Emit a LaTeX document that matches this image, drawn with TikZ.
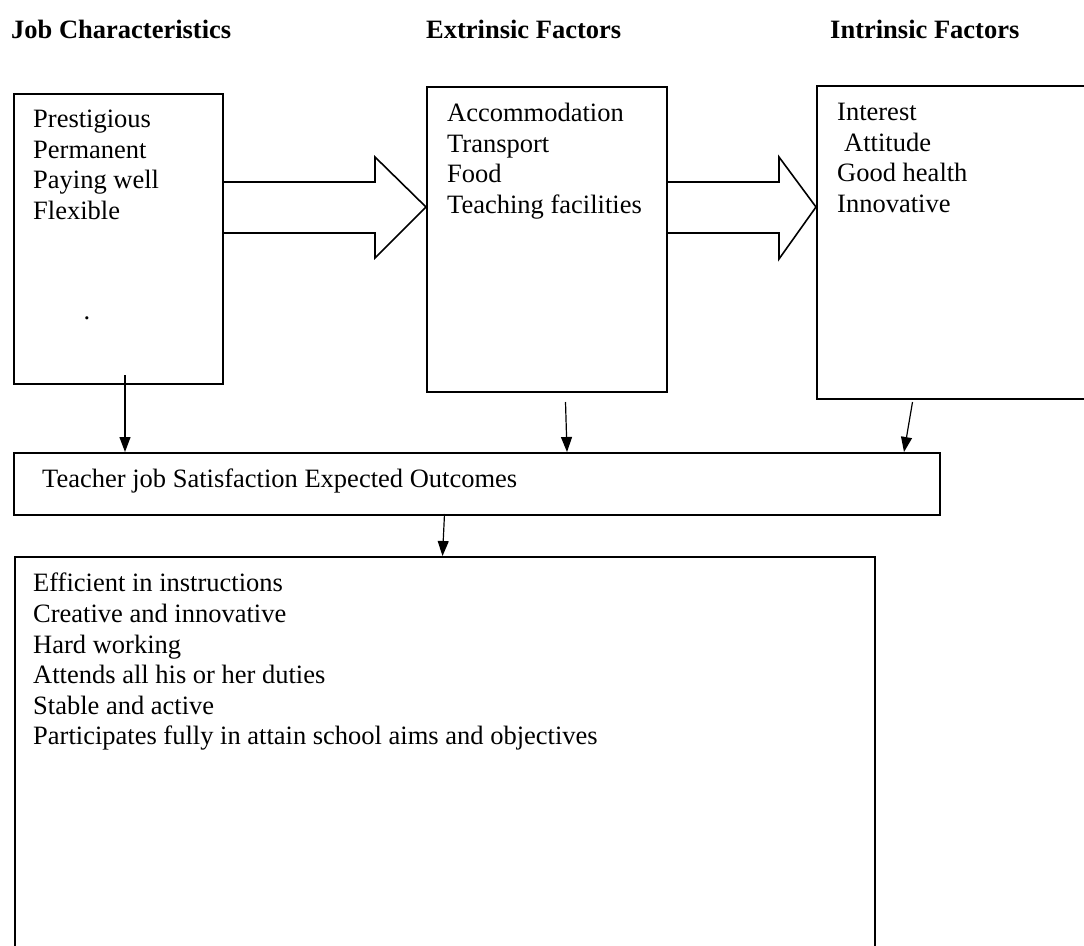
\documentclass[tikz,border=0pt]{standalone}
\usepackage{fontspec}
\setmainfont{Liberation Serif}
\usetikzlibrary{arrows.meta}

\newcommand{\bodysize}{\fontsize{26.5}{30.6}\selectfont}

\tikzset{
  box/.style={draw, rectangle, line width=1.8pt, anchor=north west, inner sep=0pt},
  list/.style={anchor=north west, inner sep=0pt, align=left},
  head/.style={anchor=base west, inner sep=0pt, font=\bodysize\bfseries},
  flow/.style={-{Triangle[length=15pt,width=11pt]}, line width=1.2pt},
  bigarrow/.style={line width=1.6pt, line join=miter}
}

\begin{document}
\begin{tikzpicture}[x=1pt, y=-1pt, font=\bodysize]
        \useasboundingbox (0,0) rectangle (1084,945);

        % Headings
        \node[head] (hjob) at (11, 38) {Job Characteristics};
        \node[head] (hext) at (426, 38) {Extrinsic Factors};
        \node[head] (hint) at (830, 38) {Intrinsic Factors};

        % Factor boxes
        \node[box, minimum width=209pt, minimum height=290pt] (job) at (13, 93) {};
        \node[box, minimum width=240pt, minimum height=305pt] (ext) at (426, 86) {};
        \node[box, minimum width=280pt, minimum height=313pt] (int) at (816, 85) {};

        \node[list] (joblist) at (33, 110) {Prestigious\\Permanent\\Paying well\\Flexible};
        \node[inner sep=0pt] (dot) at (87, 318) {.};
        \node[list] (extlist) at (447, 103) {Accommodation\\Transport\\Food\\Teaching facilities};
        \node[list] (intlist) at (837, 103) {Interest\\\hspace*{7pt}Attitude\\Good health\\Innovative};

        % Outcome boxes
        \node[box, minimum width=926pt, minimum height=62pt] (outcome) at (13, 452) {};
        \node[list] (outtext) at (42, 469) {Teacher job Satisfaction Expected Outcomes};
        \node[box, minimum width=860pt, minimum height=410pt] (result) at (14, 556) {};
        \node[list] (reslist) at (33, 573) {Efficient in instructions\\Creative and innovative\\Hard working\\Attends all his or her duties\\Stable and active\\Participates fully in attain school aims and objectives};

        % Block arrows
        \draw[bigarrow] (job.east |- 0,182) -- (375,182) -- (375,157) -- (ext.west |- 0,207)
            -- (375,258) -- (375,233) -- (job.east |- 0,233);
        \draw[bigarrow] (ext.east |- 0,182) -- (779,182) -- (779,157) -- (int.west |- 0,207)
            -- (779,259) -- (779,233) -- (ext.east |- 0,233);

        % Thin arrows
        \coordinate (j1) at (125, 375);
        \coordinate (e1) at (565.5, 402);
        \coordinate (i1) at (912.5, 402);
        \coordinate (o1) at (444.5, 514);
        \draw[flow] (j1) -- (j1 |- outcome.north);
        \draw[flow] (e1) -- (567, 452);
        \draw[flow] (i1) -- (904, 452);
        \draw[flow] (o1) -- (442.5, 556);
\end{tikzpicture}
\end{document}
